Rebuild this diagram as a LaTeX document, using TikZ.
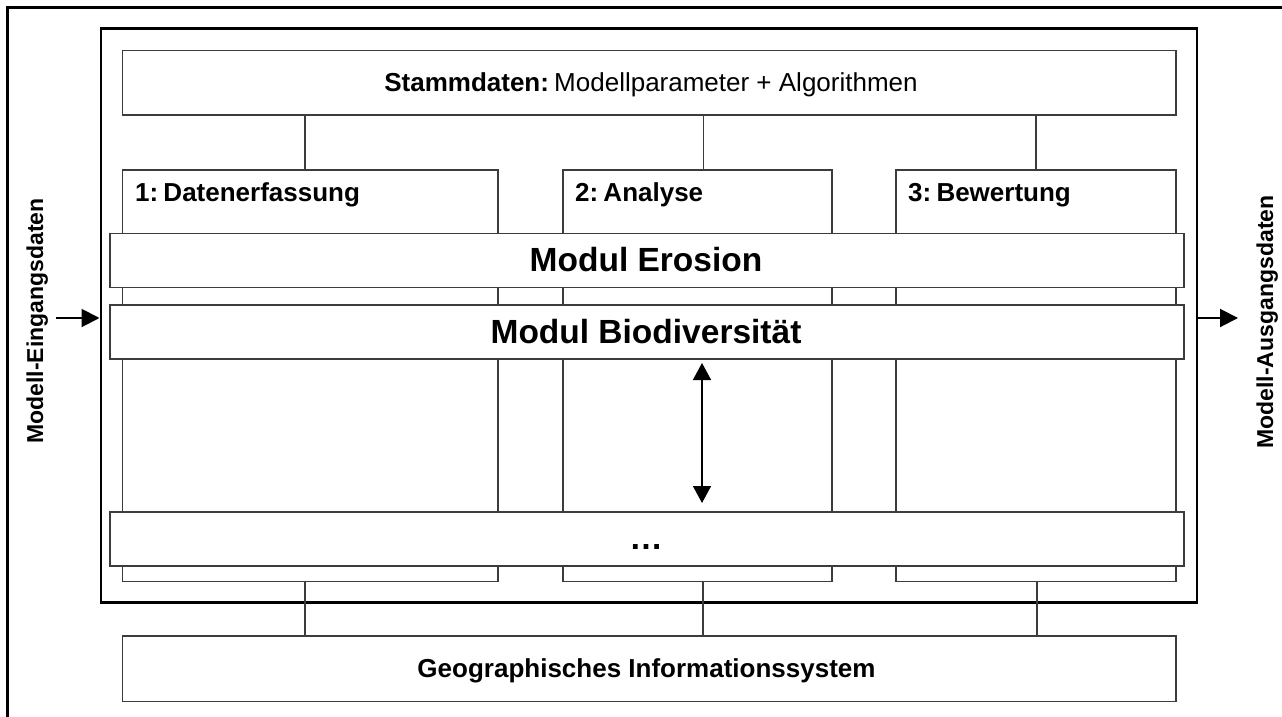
\documentclass[tikz,border=0pt]{standalone}
\usepackage{fontspec}
\setmainfont{Liberation Sans}
\usetikzlibrary{arrows.meta}
\definecolor{boxline}{HTML}{3C3C3C}
\begin{document}
\begin{tikzpicture}[x=1pt,y=-1pt,
  box/.style={draw=boxline, line width=1.5pt, fill=white, inner sep=0pt, anchor=north west},
  conn/.style={draw=boxline, line width=1.5pt},
  lbl/.style={inner sep=0pt, font=\fontsize{26}{30}\selectfont},
  big/.style={inner sep=0pt, font=\fontsize{33.5}{38}\selectfont\bfseries},
  side/.style={inner sep=0pt, font=\fontsize{23}{27}\selectfont\bfseries, rotate=90, anchor=base},
  arr/.style={line width=2pt, -{Triangle[width=18pt,length=18pt]}},
  darr/.style={line width=1.5pt, {Triangle[width=18pt,length=17pt]}-{Triangle[width=18pt,length=17pt]}}
]
\useasboundingbox (0,0) rectangle (1282,717);
\fill[white] (0,0) rectangle (1282,717);
% outer frame (only top and left visible)
\draw[line width=3pt] (7.5,717) -- (7.5,7.5) -- (1282,7.5);
% thick frame
\node[draw=black, line width=2.8pt, inner sep=0pt, anchor=north west,
      minimum width=1096pt, minimum height=574pt] (frame) at (99.5,27) {};
% Stammdaten
\node[box, minimum width=1053.3pt, minimum height=64.3pt] (stamm) at (121.7,50) {};
% columns
\node[box, minimum width=375.3pt, minimum height=411.7pt] (col1) at (121.7,169) {};
\node[box, minimum width=268.7pt, minimum height=411.7pt] (col2) at (562.3,169) {};
\node[box, minimum width=280pt, minimum height=411.7pt] (col3) at (895,169) {};
% connectors top
\draw[conn] ([xshift=-5]col1.north) -- ([xshift=-5]col1.north |- stamm.south);
\draw[conn] ([xshift=6]col2.north) -- ([xshift=6]col2.north |- stamm.south);
\draw[conn] (col3.north) -- (col3.north |- stamm.south);
% module bars
\node[box, minimum width=1074.3pt, minimum height=54pt] (eros) at (109,232.7) {};
\node[box, minimum width=1074.3pt, minimum height=54pt] (bio) at (109,304.3) {};
\node[box, minimum width=1074.3pt, minimum height=54pt] (dots) at (109,511) {};
% GIS
\node[box, minimum width=1053.3pt, minimum height=65.7pt] (gis) at (121.7,635) {};
% connectors bottom
\draw[conn] ([xshift=-5]col1.south) -- ([xshift=-5]col1.south |- gis.north);
\draw[conn] ([xshift=5.4]col2.south) -- ([xshift=5.4]col2.south |- gis.north);
\draw[conn] ([xshift=1]col3.south) -- ([xshift=1]col3.south |- gis.north);
% double arrow
\coordinate (da1) at (702,363);
\coordinate (da2) at (702,503);
\draw[darr] (da1) -- (da2);
% in/out arrows
\coordinate (inL) at (56,318);
\coordinate (outR) at (1238,318);
\draw[arr] (inL) -- (inL -| frame.west);
\draw[arr] (frame.east |- outR) -- (outR);
% texts
\node[lbl, anchor=base] (stammtxt) at (651,91) {\textbf{Stammdaten:}\hspace{0.2em}Modellparameter + Algorithmen};
\node[lbl, anchor=base west, font=\fontsize{26}{30}\selectfont\bfseries] (c1txt) at (135,201) {1:\hspace{0.2em}Datenerfassung};
\node[lbl, anchor=base west, font=\fontsize{26}{30}\selectfont\bfseries] (c2txt) at (575,201) {2:\hspace{0.2em}Analyse};
\node[lbl, anchor=base west, font=\fontsize{26}{30}\selectfont\bfseries] (c3txt) at (908,201) {3:\hspace{0.2em}Bewertung};
\node[big, anchor=base] (erostxt) at (646,271) {Modul Erosion};
\node[big, anchor=base] (biotxt) at (646,343) {Modul Biodiversität};
\node[big, anchor=base] (dotstxt) at (646,549) {…};
\node[lbl, anchor=base, font=\fontsize{26}{30}\selectfont\bfseries] (gistxt) at (646.5,677) {Geographisches Informationssystem};
\node[side] (intxt) at (43,321) {Modell-Eingangsdaten};
\node[side] (outtxt) at (1273,322) {Modell-Ausgangsdaten};
\end{tikzpicture}
\end{document}
